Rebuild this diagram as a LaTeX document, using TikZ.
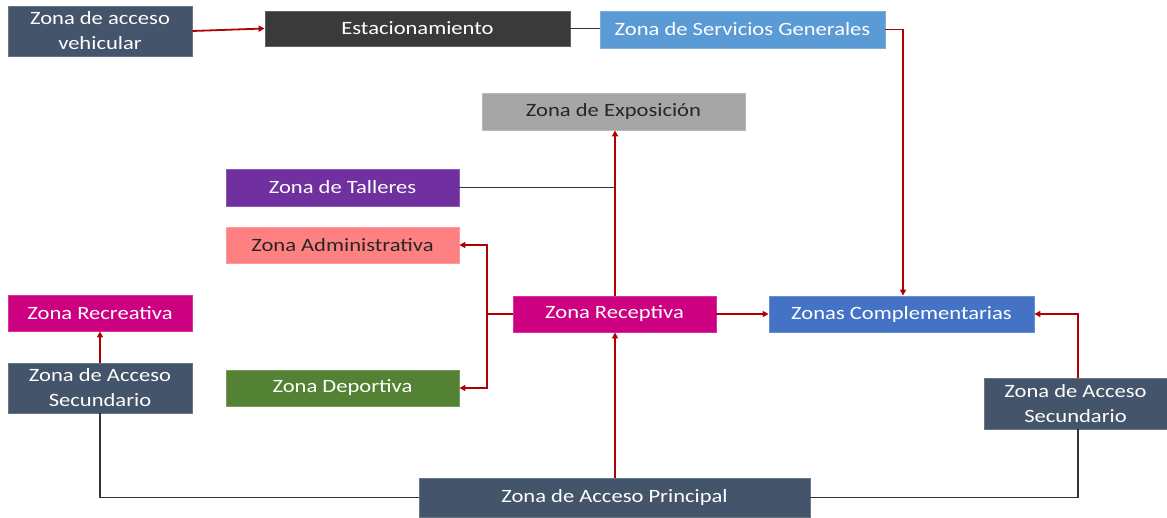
\documentclass[tikz,border=0pt]{standalone}
\usepackage{fontspec}
\setmainfont[FakeStretch=1.2]{Carlito}
\usetikzlibrary{arrows.meta}
\definecolor{slate}{HTML}{44546A}
\definecolor{dgrey}{HTML}{3A3A3A}
\definecolor{lblue}{HTML}{5B9BD5}
\definecolor{mgrey}{HTML}{A6A6A6}
\definecolor{purp}{HTML}{7030A0}
\definecolor{salmon}{HTML}{FF8080}
\definecolor{magen}{HTML}{CC0080}
\definecolor{mblue}{HTML}{4472C4}
\definecolor{dgreen}{HTML}{548235}
\definecolor{redline}{HTML}{B00000}
\definecolor{txtdark}{HTML}{262626}
\tikzset{
  zone/.style={draw=#1!80!white, fill=#1, line width=0.8pt, text=white, align=center, inner sep=0pt,
    font=\fontsize{18.8}{25}\selectfont},
  redarr/.style={draw=redline, line width=1.8pt, -{Triangle[length=6pt,width=6pt]}},
  redln/.style={draw=redline, line width=1.8pt},
  blkln/.style={draw=black!80, line width=1.8pt},
}
\begin{document}
\begin{tikzpicture}[x=1pt,y=-1pt]
\useasboundingbox (0,0) rectangle (1167,518);
% nodes
\node[zone=slate, minimum width=184pt, minimum height=50pt] (veh) at (100,31) {Zona de acceso\\vehicular};
\node[zone=dgrey, minimum width=305pt, minimum height=35pt] (est) at (417.5,28.5) {Estacionamiento};
\node[zone=lblue, minimum width=285pt, minimum height=37pt] (serv) at (742.5,29.5) {Zona de Servicios Generales};
\node[zone=mgrey, text=txtdark, minimum width=263pt, minimum height=37pt] (expo) at (613.5,111.5) {Zona de Exposición};
\node[zone=purp, minimum width=233pt, minimum height=37pt] (tall) at (342.5,187.5) {Zona de Talleres};
\node[zone=salmon, text=txtdark, minimum width=233pt, minimum height=36pt] (adm) at (342.5,245) {Zona Administrativa};
\node[zone=magen, minimum width=184pt, minimum height=36pt] (recr) at (100,313) {Zona Recreativa};
\node[zone=magen, minimum width=203pt, minimum height=36pt] (rec) at (614.5,314) {Zona Receptiva};
\node[zone=mblue, minimum width=265pt, minimum height=36pt] (comp) at (901.5,314) {Zonas Complementarias};
\node[zone=slate, minimum width=184pt, minimum height=50pt] (secL) at (100,388) {Zona de Acceso\\Secundario};
\node[zone=dgreen, minimum width=233pt, minimum height=36pt] (dep) at (342.5,388) {Zona Deportiva};
\node[zone=slate, minimum width=183pt, minimum height=51pt] (secR) at (1075.5,403.5) {Zona de Acceso\\Secundario};
\node[zone=slate, minimum width=391pt, minimum height=39pt] (prin) at (614.5,497.5) {Zona de Acceso Principal};
% coordinates
\coordinate (jT) at (615,187.5);
\coordinate (jL) at (487,314);
\coordinate (jS) at (903,296);
\coordinate (jR) at (1078,403.5);
% connectors
\draw[redarr] (veh.east) -- (est.west);
\draw[blkln] (est.east) -- (est.east -| serv.west);
\draw[redarr] (serv.east) -| (comp.north -| jS);
\draw[redarr] (rec.north -| jT) -- (expo.south -| jT);
\draw[blkln] (tall.east) -- (jT);
\draw[redln] (rec.west) -- (jL);
\draw[redarr] (jL) |- (adm.east);
\draw[redarr] (jL) |- (dep.east);
\draw[redarr] (rec.east) -- (comp.west);
\draw[redarr] (prin.north -| jT) -- (rec.south -| jT);
\draw[blkln] (prin.west) -| (secL.south);
\draw[redarr] (secL.north) -- (recr.south);
\draw[blkln] (prin.east) -| (secR.south -| jR);
\draw[redarr] (secR.north -| jR) |- (comp.east);
\end{tikzpicture}
\end{document}
